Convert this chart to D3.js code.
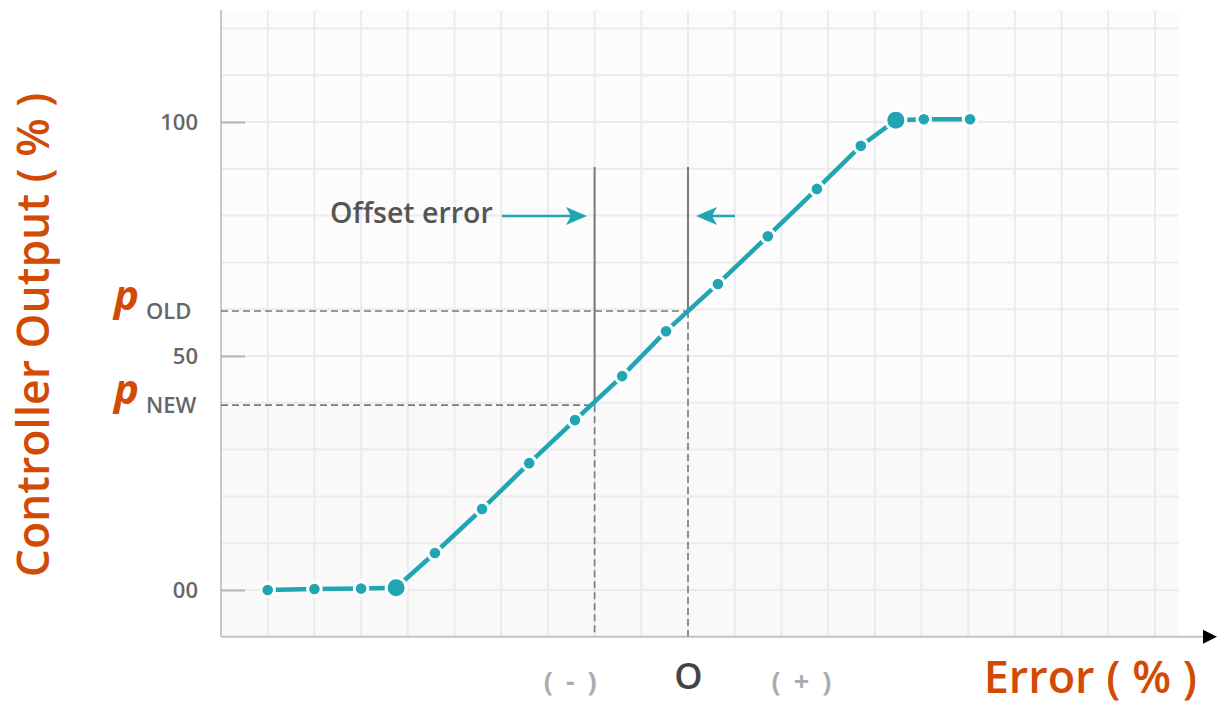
<!DOCTYPE html>
<html><head><meta charset="utf-8">
<script src="https://cdn.jsdelivr.net/npm/d3@7"></script>
<style>body{margin:0;background:#fff;} svg{display:block;font-family:"Open Sans",sans-serif;}</style>
</head><body><svg id="c" width="1221" height="705"></svg>
<script>
// ---- data ----
const errorX = [1, 2, 3, 3.75, 4.58, 5.59, 6.6, 7.58, 8.59, 9.53, 10.64, 11.71, 12.76, 13.7, 14.45, 15.05, 16.04];
const outputY = [0, 0.2, 0.3, 0.5, 7.9, 17.3, 27.1, 36.3, 45.7, 55.3, 65.4, 75.6, 85.7, 94.9, 100.4, 100.6, 100.6];
const largePoints = [3, 14];
const yTickValues = [0, 50, 100];
const yTickLabels = ["00", "50", "100"];
const xTickValues = [7.5, 10, 12.45];
const xTickLabels = ["( - )", "O", "( + )"];
const pOld = 59.6, pNew = 39.5;
const errNew = 8, errZero = 10;
const gridX = d3.range(1, 21);
const gridY = d3.range(0, 121, 10);

const svg = d3.select("#c");
const x = d3.scaleLinear().domain([0, 20]).range([221, 1155]);
const y = d3.scaleLinear().domain([0, 100]).range([590, 122]);
const teal = "#20a6b3", orange = "#d24a04";

// plot background
svg.append("rect").attr("x", x(0)).attr("y", y(120) - 18).attr("width", x(20.5) - x(0))
  .attr("height", y(-10) - y(120) + 18).attr("fill", "#fcfcfc");
svg.append("rect").attr("x", x(0)).attr("y", y(40)).attr("width", x(20.5) - x(0))
  .attr("height", y(-10) - y(40)).attr("fill", "#f9f9f9");

// grid
svg.append("g").selectAll("line").data(gridX).join("line")
  .attr("x1", d => x(d)).attr("x2", d => x(d)).attr("y1", y(120) - 18).attr("y2", y(-10))
  .attr("stroke", "#ebebeb").attr("stroke-width", 2);
svg.append("g").selectAll("line").data(gridY).join("line")
  .attr("x1", x(0)).attr("x2", x(20.5)).attr("y1", d => y(d)).attr("y2", d => y(d))
  .attr("stroke", "#ebebeb").attr("stroke-width", 2);

// axes lines
svg.append("line").attr("x1", x(0)).attr("x2", x(0)).attr("y1", 10).attr("y2", y(-10))
  .attr("stroke", "#c8c8c8").attr("stroke-width", 2);
svg.append("line").attr("x1", x(0)).attr("x2", 1204).attr("y1", y(-10)).attr("y2", y(-10))
  .attr("stroke", "#c4c4c4").attr("stroke-width", 2);
svg.append("path").attr("d", `M1203,${y(-10)-7}L1217,${y(-10)}L1203,${y(-10)+7}Z`).attr("fill", "#000");

// y ticks
const yAxis = d3.axisLeft(y).tickValues(yTickValues).tickFormat((d, i) => yTickLabels[i]).tickSize(-24).tickPadding(23);
const gy = svg.append("g").attr("transform", `translate(${x(0)},0)`).call(yAxis);
gy.select(".domain").remove();
gy.selectAll(".tick line").attr("stroke", "#b5b5b5").attr("stroke-width", 2);
gy.selectAll(".tick text").attr("fill", "#666").attr("font-size", 22).attr("font-weight", 600)
  .attr("font-family", "Open Sans").attr("dy", "0.36em");

// x tick labels
const xAxis = d3.axisBottom(x).tickValues(xTickValues).tickFormat((d, i) => xTickLabels[i]).tickSize(0).tickPadding(0);
const gx = svg.append("g").attr("transform", `translate(0,${y(-10)})`).call(xAxis);
gx.select(".domain").remove();
gx.selectAll(".tick text").attr("font-family", "Open Sans")
  .attr("y", (d, i) => i === 1 ? 52 : 54).attr("dy", 0)
  .attr("fill", (d, i) => i === 1 ? "#444" : "#a9adb3")
  .attr("font-size", (d, i) => i === 1 ? 36 : 27)
  .attr("font-weight", (d, i) => i === 1 ? 600 : 700)
  .attr("letter-spacing", (d, i) => i === 1 ? 0 : 3)
  .attr("xml:space", "preserve");

// reference lines
const gray = "#7a7a7a";
const dashes = [[x(0), y(pOld), x(errZero), y(pOld)], [x(0), y(pNew), x(errNew), y(pNew)],
  [x(errNew), y(pNew), x(errNew), y(-10)], [x(errZero), y(pOld), x(errZero), y(-10)]];
svg.append("g").selectAll("line").data(dashes).join("line")
  .attr("x1", d => d[0]).attr("y1", d => d[1]).attr("x2", d => d[2]).attr("y2", d => d[3])
  .attr("stroke", gray).attr("stroke-width", 1.6).attr("stroke-dasharray", "7,4");
const solids = [[x(errNew), 167, y(pNew)], [x(errZero), 167, y(pOld)]];
svg.append("g").selectAll("line").data(solids).join("line")
  .attr("x1", d => d[0]).attr("x2", d => d[0]).attr("y1", d => d[1]).attr("y2", d => d[2])
  .attr("stroke", gray).attr("stroke-width", 2);

// offset error annotation
svg.append("text").attr("x", 330).attr("y", 223).attr("font-size", 28.5).attr("font-weight", 600)
  .attr("fill", "#555").text("Offset error");
svg.append("line").attr("x1", 502).attr("x2", 572).attr("y1", 216).attr("y2", 216).attr("stroke", teal).attr("stroke-width", 2.5);
svg.append("path").attr("d", "M587,216L566,207L571,216L566,225Z").attr("fill", teal);
svg.append("line").attr("x1", 735).attr("x2", 710).attr("y1", 216).attr("y2", 216).attr("stroke", teal).attr("stroke-width", 2.5);
svg.append("path").attr("d", "M696,216L717,207L712,216L717,225Z").attr("fill", teal);

// data line
const pts = errorX.map((e, i) => ({x: e, y: outputY[i], big: largePoints.includes(i)}));
svg.append("path").datum(pts).attr("fill", "none").attr("stroke", teal).attr("stroke-width", 4.5)
  .attr("d", d3.line().x(d => x(d.x)).y(d => y(d.y)));
svg.append("g").selectAll("circle").data(pts).join("circle")
  .attr("cx", d => x(d.x)).attr("cy", d => y(d.y)).attr("r", d => d.big ? 8.5 : 5.3)
  .attr("fill", teal).attr("stroke", "#fff").attr("stroke-width", 6).attr("paint-order", "stroke");

// p labels
function pLabel(v, sub){
  const g = svg.append("g");
  g.append("text").attr("x", 114).attr("y", y(v) - 1).attr("font-size", 42).attr("font-style", "italic")
    .attr("font-weight", 700).attr("fill", orange).text("p");
  g.append("text").attr("x", 146).attr("y", y(v) + 8).attr("font-size", 22).attr("font-weight", 600)
    .attr("fill", "#666").text(sub);
}
pLabel(pOld, "OLD");
pLabel(pNew, "NEW");

// axis titles
svg.append("text").attr("transform", `translate(49,335) rotate(-90)`).attr("text-anchor", "middle")
  .attr("font-size", 44.5).attr("font-weight", 600).attr("fill", orange).text("Controller Output ( % )");
svg.append("text").attr("x", 1197).attr("y", 693).attr("text-anchor", "end")
  .attr("font-size", 45).attr("font-weight", 600).attr("fill", orange).text("Error ( % )");
</script></body></html>
